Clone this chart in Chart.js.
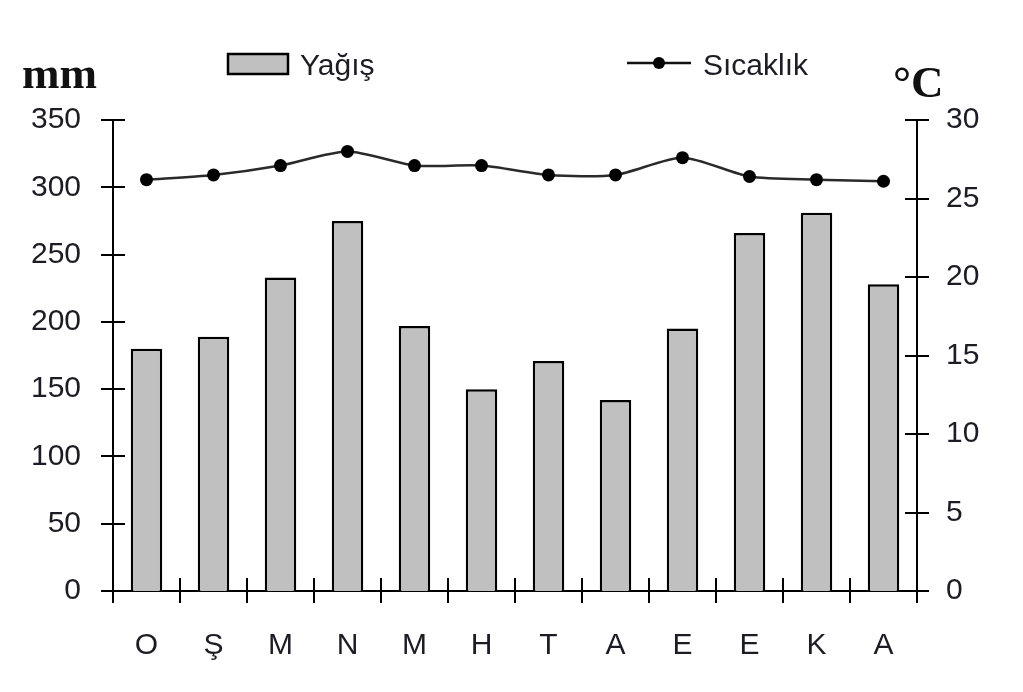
<!DOCTYPE html>
<html>
<head>
<meta charset="utf-8">
<script src="https://cdn.jsdelivr.net/npm/chart.js@4"></script>
<style>
  html, body { margin: 0; padding: 0; background: #fff; }
  #wrap { width: 1023px; height: 692px; position: relative; }
</style>
</head>
<body>
<div id="wrap"><canvas id="c"></canvas></div>
<script>
// ---- data ----
const months = ["O", "Ş", "M", "N", "M", "H", "T", "A", "E", "E", "K", "A"];
const rainfall = [180, 189, 233, 275, 197, 150, 171, 142, 195, 266, 281, 228];
const temperature = [26.2, 26.5, 27.1, 28.0, 27.1, 27.1, 26.5, 26.5, 27.6, 26.4, 26.2, 26.1];
const rainTicks = { min: 0, max: 350, step: 50 };
const tempTicks = { min: 0, max: 30, step: 5 };
const rainLabel = "Yağış";
const tempLabel = "Sıcaklık";
const leftUnit = "mm";
const rightUnit = "°C";

const TEXT = "#1c1c24";
const tickFont = { family: "'Liberation Sans', Arial, sans-serif", size: 30 };

const decorPlugin = {
  id: "decor",
  afterDraw(chart) {
    const ctx = chart.ctx;
    const x = chart.scales.x, y = chart.scales.y, y2 = chart.scales.y2;
    ctx.save();
    ctx.strokeStyle = "#000";
    ctx.lineWidth = 2;
    ctx.beginPath();
    // left axis ticks (crossing)
    y.ticks.forEach(t => {
      const py = Math.round(y.getPixelForValue(t.value));
      ctx.moveTo(y.right - 12, py); ctx.lineTo(y.right + 12, py);
    });
    // right axis ticks (crossing)
    y2.ticks.forEach(t => {
      const py = Math.round(y2.getPixelForValue(t.value));
      ctx.moveTo(y2.left - 12, py); ctx.lineTo(y2.left + 12, py);
    });
    // x axis ticks at category boundaries
    const half = (x.getPixelForValue(1) - x.getPixelForValue(0)) / 2;
    for (let i = 0; i <= months.length; i++) {
      const px = Math.round(i < months.length ? x.getPixelForValue(i) - half : x.getPixelForValue(i - 1) + half);
      ctx.moveTo(px, x.top - 13); ctx.lineTo(px, x.top + 12);
    }
    ctx.stroke();

    // unit titles
    ctx.fillStyle = "#111";
    ctx.textBaseline = "alphabetic";
    ctx.textAlign = "left";
    ctx.font = "bold 45px 'Liberation Serif', 'Times New Roman', serif";
    ctx.fillText(leftUnit, 22, 88);
    ctx.fillText(rightUnit, 893, 97);

    // legend
    ctx.font = "30px 'Liberation Sans', Arial, sans-serif";
    // bar swatch
    ctx.fillStyle = "#c0c0c0";
    ctx.fillRect(228, 54, 60, 20);
    ctx.strokeStyle = "#000";
    ctx.lineWidth = 2.5;
    ctx.strokeRect(228, 54, 60, 20);
    ctx.fillStyle = TEXT;
    ctx.fillText(chart.data.datasets[1].label, 300, 75);
    // line swatch
    ctx.beginPath();
    ctx.strokeStyle = "#111";
    ctx.lineWidth = 2.5;
    ctx.moveTo(627, 63); ctx.lineTo(691, 63);
    ctx.stroke();
    ctx.beginPath();
    ctx.fillStyle = "#000";
    ctx.arc(659, 63, 6, 0, Math.PI * 2);
    ctx.fill();
    ctx.fillStyle = TEXT;
    ctx.fillText(chart.data.datasets[0].label, 703, 75);
    ctx.restore();
  }
};

new Chart(document.getElementById("c"), {
  type: "bar",
  data: {
    labels: months,
    datasets: [
      {
        type: "line",
        label: tempLabel,
        data: temperature,
        yAxisID: "y2",
        borderColor: "#2a2a2a",
        borderWidth: 2.5,
        pointRadius: 6.5,
        pointBackgroundColor: "#000",
        pointBorderColor: "#000",
        pointBorderWidth: 0,
        tension: 0.25,
        fill: false,
        order: 0
      },
      {
        type: "bar",
        label: rainLabel,
        data: rainfall,
        yAxisID: "y",
        backgroundColor: "#c0c0c0",
        borderColor: "#000",
        borderWidth: 2.5,
        borderSkipped: "bottom",
        categoryPercentage: 1,
        barPercentage: 0.47,
        order: 1
      }
    ]
  },
  options: {
    responsive: true,
    maintainAspectRatio: false,
    animation: false,
    layout: { padding: { top: 120, left: 0, right: 0, bottom: 0 } },
    plugins: { legend: { display: false }, tooltip: { enabled: false }, title: { display: false } },
    scales: {
      x: {
        type: "category",
        offset: true,
        grid: { display: false, drawTicks: false },
        border: { display: true, color: "#000", width: 2 },
        ticks: { font: tickFont, color: TEXT, padding: 37, maxRotation: 0, autoSkip: false },
        afterFit(s) { s.height = 101; }
      },
      y: {
        position: "left",
        min: rainTicks.min, max: rainTicks.max,
        grid: { display: false, drawTicks: false },
        border: { display: true, color: "#000", width: 2 },
        ticks: { stepSize: rainTicks.step, font: tickFont, color: TEXT, padding: 32 },
        afterFit(s) { s.width = 113; }
      },
      y2: {
        position: "right",
        min: tempTicks.min, max: tempTicks.max,
        grid: { display: false, drawTicks: false },
        border: { display: true, color: "#000", width: 2 },
        ticks: { stepSize: tempTicks.step, font: tickFont, color: TEXT, padding: 29 },
        afterFit(s) { s.width = 106; }
      }
    }
  },
  plugins: [decorPlugin]
});
</script>
</body>
</html>
